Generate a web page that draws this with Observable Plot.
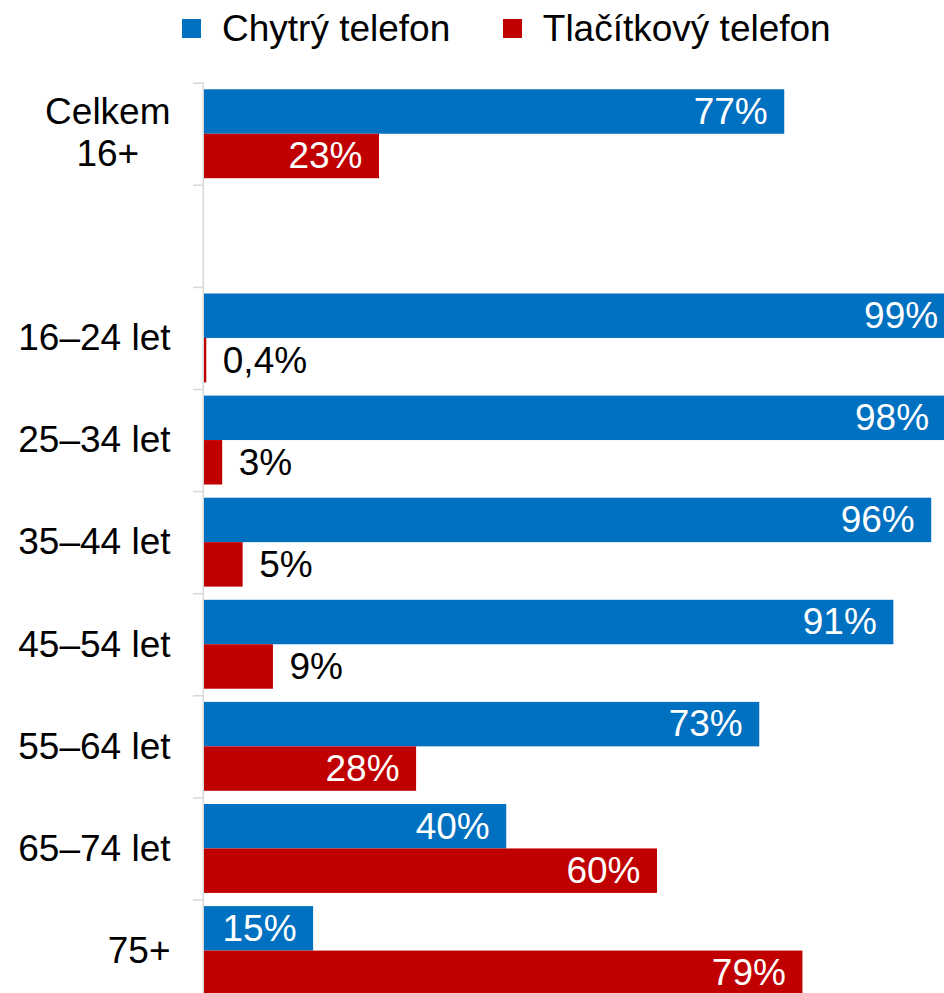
<!DOCTYPE html>
<html>
<head>
<meta charset="utf-8">
<script src="https://cdn.jsdelivr.net/npm/d3@7"></script>
<script src="https://cdn.jsdelivr.net/npm/@observablehq/plot@0.6"></script>
<style>
  html, body { margin: 0; padding: 0; overflow: hidden; background: white; }
  body { width: 944px; height: 993px; font-family: "Liberation Sans", Arial, sans-serif; }
  #legend { position: relative; height: 66px; }
  #legend .row { position: absolute; top: 0; left: 182px; height: 57px; display: flex; align-items: center; font-size: 37px; color: #000; white-space: nowrap; }
  #legend .item { display: flex; align-items: center; margin-right: 52.5px; }
  #legend .sw { width: 19px; height: 19px; margin-right: 21px; }
  #chart svg { display: block; overflow: hidden; }
</style>
</head>
<body>
<div id="legend"><div class="row"></div></div>
<div id="chart"></div>
<script>
// ---- data ----
const categories = ["Celkem\n16+", "", "16–24 let", "25–34 let", "35–44 let", "45–54 let", "55–64 let", "65–74 let", "75+"];
const seriesNames = ["Chytrý telefon", "Tlačítkový telefon"];
const seriesColors = ["#0070C0", "#C00000"];
const smartValues = [76.6, null, 99.1, 97.9, 96.0, 91.0, 73.3, 39.9, 14.4];
const smartLabels = ["77%", "", "99%", "98%", "96%", "91%", "73%", "40%", "15%"];
const featureValues = [23.1, null, 0.3, 2.4, 5.1, 9.1, 28.0, 59.8, 79.0];
const featureLabels = ["23%", "", "0,4%", "3%", "5%", "9%", "28%", "60%", "79%"];

// ---- legend ----
const row = document.querySelector("#legend .row");
seriesNames.forEach((name, i) => {
  const item = document.createElement("div");
  item.className = "item";
  const sw = document.createElement("span");
  sw.className = "sw";
  sw.style.background = seriesColors[i];
  const t = document.createElement("span");
  t.textContent = name;
  item.appendChild(sw);
  item.appendChild(t);
  row.appendChild(item);
});

// ---- table ----
const rows = [];
categories.forEach((c, i) => {
  if (smartValues[i] != null) rows.push({category: c, series: seriesNames[0], value: smartValues[i], label: smartLabels[i]});
  if (featureValues[i] != null) rows.push({category: c, series: seriesNames[1], value: featureValues[i], label: featureLabels[i]});
});

// ---- layout ----
const W = 944, H = 927;
const top0 = 16.7;
const bw = 102.1;
const pad = 6.6;
const half = bw / 2;
const subOffset = (half - pad) / 2;
const font = "'Liberation Sans', Arial, sans-serif";
const labelGap = 34;

// measure widest line of multi-line labels (for centered block alignment)
const ctx = document.createElement("canvas").getContext("2d");
ctx.font = "37px 'Liberation Sans', Arial, sans-serif";
const blockWidth = d => Math.max(...d.split("\n").map(s => ctx.measureText(s).width));

const marks = [];
// category boundary ticks
marks.push(Plot.ruleY(categories, {y: d => d, x1: 0, x2: 0, insetLeft: -11, dy: -half, stroke: "#d9d9d9", strokeWidth: 1.5}));
// bars
marks.push(Plot.barX(rows.filter(d => d.series === seriesNames[0]), {y: "category", x: "value", fill: "series", insetTop: pad, insetBottom: half}));
marks.push(Plot.barX(rows.filter(d => d.series === seriesNames[1]), {y: "category", x: "value", fill: "series", insetTop: half, insetBottom: pad}));
// axis line
marks.push(Plot.ruleX([0], {stroke: "#d9d9d9", strokeWidth: 1.5, dx: -1.3}));
// value labels
seriesNames.forEach((s, si) => {
  const dy = si === 0 ? -subOffset : subOffset;
  marks.push(Plot.text(rows.filter(d => d.series === s && d.value >= 10), {
    y: "category", x: "value", text: "label", textAnchor: "end", dx: -17, dy, fill: "white", fontSize: 37
  }));
  marks.push(Plot.text(rows.filter(d => d.series === s && d.value < 10), {
    y: "category", x: "value", text: "label", textAnchor: "start", dx: 16, dy, fill: "black", fontSize: 37
  }));
});
// category labels: single-line right aligned
marks.push(Plot.text(categories.filter(d => !d.includes("\n")), {y: d => d, text: d => d, frameAnchor: "left", textAnchor: "end", dx: -labelGap, fontSize: 37, fill: "black"}));
// multi-line labels: block right aligned, lines centered
categories.filter(d => d.includes("\n")).forEach(c => {
  marks.push(Plot.text([c], {y: d => d, text: d => d, frameAnchor: "left", textAnchor: "middle", dx: -labelGap - blockWidth(c) / 2, dy: -3, fontSize: 37, lineHeight: 1.16, fill: "black"}));
});

const chart = Plot.plot({
  width: W,
  height: H,
  marginTop: top0,
  marginBottom: 0,
  marginLeft: 204,
  marginRight: 0,
  x: {domain: [0, 100], range: [204, 204 + 757.5], axis: null},
  y: {type: "band", domain: categories, range: [top0, top0 + bw * categories.length], padding: 0, round: false, axis: null},
  color: {domain: seriesNames, range: seriesColors},
  style: {fontFamily: font, fontSize: "37px", background: "white", overflow: "hidden"},
  marks
});
document.getElementById("chart").appendChild(chart);
</script>
</body>
</html>
